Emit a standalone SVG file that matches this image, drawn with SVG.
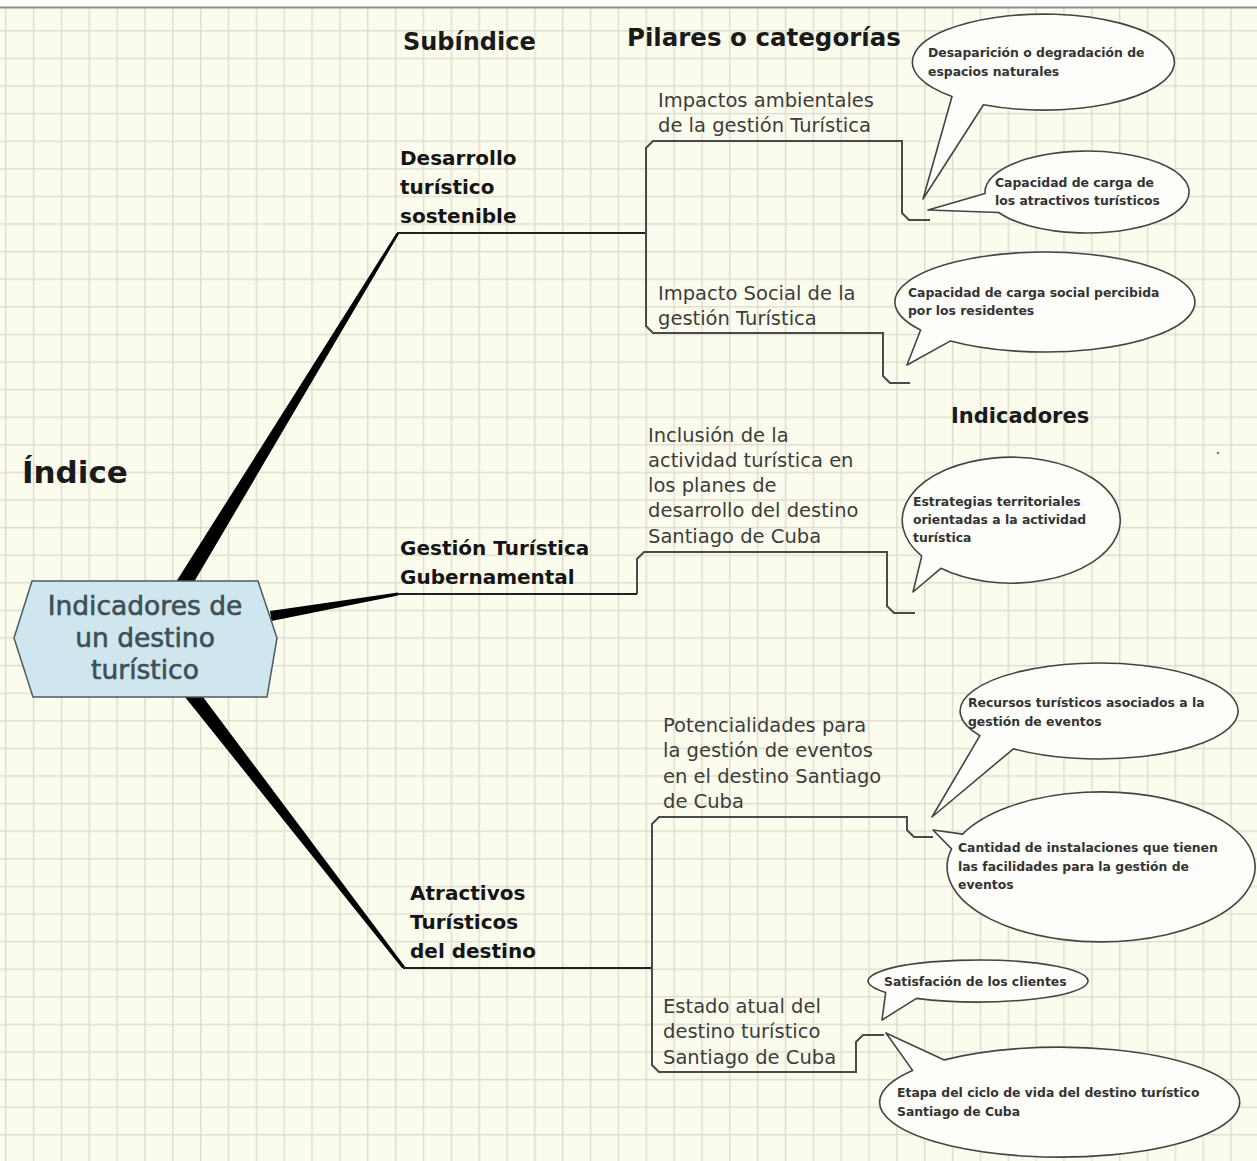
<svg xmlns="http://www.w3.org/2000/svg" width="1257" height="1161" viewBox="0 0 1257 1161">
<defs>
  <pattern id="grid" patternUnits="userSpaceOnUse" x="5" y="2.5" width="27.85" height="27.6">
    <rect x="0" y="0" width="27.85" height="27.6" fill="#fcfcee"/>
    <rect x="0" y="0" width="1.4" height="27.6" fill="#dcdcd0"/>
    <rect x="0" y="0" width="27.85" height="1.4" fill="#dcdcd0"/>
  </pattern>
  <style>
    .hdr{font-family:"DejaVu Sans","Open Sans",sans-serif;font-weight:bold;fill:#1a1a1a}
    .sub{font-family:"DejaVu Sans","Open Sans",sans-serif;font-weight:bold;font-size:20px;fill:#151515}
    .pil{font-family:"DejaVu Sans","Open Sans",sans-serif;font-size:19.5px;fill:#3c3c3c}
    .ind{font-family:"DejaVu Sans","Open Sans",sans-serif;font-weight:bold;font-size:12.4px;fill:#333}
    .hex{font-family:"DejaVu Sans","Open Sans",sans-serif;font-size:26.5px;fill:#3d5055;stroke:#3d5055;stroke-width:0.6}
    .br{fill:none;stroke:#4a4a4a;stroke-width:2}
    .hl{fill:none;stroke:#222;stroke-width:2}
    .trunk{fill:#000;stroke:none}
    .call{fill:#fdfdfa;stroke:#444;stroke-width:1.6;stroke-linejoin:round}
  </style>
</defs>
<rect x="0" y="0" width="1257" height="1161" fill="url(#grid)"/>
<rect x="0" y="0" width="1257" height="7" fill="#ffffff"/>
<line x1="0" y1="7.5" x2="1257" y2="7.5" stroke="#8f8f8f" stroke-width="2"/>
<circle cx="1218" cy="453" r="1.3" fill="#777"/>

<g id="headers">
  <text class="hdr" x="403" y="50" font-size="24">Subíndice</text>
  <text class="hdr" x="627" y="46" font-size="24.5">Pilares o categorías</text>
  <text class="hdr" x="951" y="423" font-size="21">Indicadores</text>
  <text class="hdr" x="22" y="483" font-size="31" fill="#000">Índice</text>
</g>

<g id="connectors">
  <polygon class="trunk" points="176,582 194,582 399.5,233 396.5,233"/>
  <polygon class="trunk" points="270,611 271.5,621 398,595.5 398,592.5"/>
  <polygon class="trunk" points="185,697 203,697 406,968 402,968"/>
  <line class="hl" x1="397" y1="233" x2="646" y2="233"/>
  <line class="hl" x1="397" y1="594" x2="637" y2="594"/>
  <line class="hl" x1="403" y1="968" x2="652" y2="968"/>
  <path class="br" d="M646 233 V148 L653 141 H902 V213 L909 220 H930"/>
  <path class="br" d="M646 233 V326 L653 333 H883 V376 L890 383 H910"/>
  <path class="br" d="M637 594 V559 L644 552 H887 V606 L894 613 H915"/>
  <path class="br" d="M652 968 V824 L659 817 H907 V830 L914 837 H933"/>
  <path class="br" d="M652 968 V1065 L659 1072 H856 V1042 L863 1035 H884"/>
</g>

<g id="root">
  <polygon points="14,638 32,581 258,581 277,638 267,697 33,697" fill="#cfe6ef" stroke="#4d5b60" stroke-width="1.5"/>
  <text class="hex" x="145" y="615" text-anchor="middle">Indicadores de</text>
  <text class="hex" x="145" y="647" text-anchor="middle">un destino</text>
  <text class="hex" x="145" y="679" text-anchor="middle">turístico</text>
</g>

<g id="sub-desarrollo">
  <text class="sub" x="400" y="165">Desarrollo</text>
  <text class="sub" x="400" y="194">turístico</text>
  <text class="sub" x="400" y="223">sostenible</text>
</g>
<g id="sub-gestion">
  <text class="sub" x="400" y="555">Gestión Turística</text>
  <text class="sub" x="400" y="584">Gubernamental</text>
</g>
<g id="sub-atractivos">
  <text class="sub" x="410" y="900">Atractivos</text>
  <text class="sub" x="410" y="929">Turísticos</text>
  <text class="sub" x="410" y="958">del destino</text>
</g>

<g id="pil-ambientales">
  <text class="pil" x="658" y="107">Impactos ambientales</text>
  <text class="pil" x="658" y="132">de la gestión Turística</text>
</g>
<g id="pil-social">
  <text class="pil" x="658" y="300">Impacto Social de la</text>
  <text class="pil" x="658" y="325">gestión Turística</text>
</g>
<g id="pil-inclusion">
  <text class="pil" x="648" y="442">Inclusión de la</text>
  <text class="pil" x="648" y="467">actividad turística en</text>
  <text class="pil" x="648" y="492">los planes de</text>
  <text class="pil" x="648" y="517">desarrollo del destino</text>
  <text class="pil" x="648" y="543">Santiago de Cuba</text>
</g>
<g id="pil-potencialidades">
  <text class="pil" x="663" y="732">Potencialidades para</text>
  <text class="pil" x="663" y="757">la gestión de eventos</text>
  <text class="pil" x="663" y="783">en el destino Santiago</text>
  <text class="pil" x="663" y="808">de Cuba</text>
</g>
<g id="pil-estado">
  <text class="pil" x="663" y="1013">Estado atual del</text>
  <text class="pil" x="663" y="1038">destino turístico</text>
  <text class="pil" x="663" y="1064">Santiago de Cuba</text>
</g>

<g id="ind-desaparicion">
  <path class="call" d="M952 96.5 A131 48 0 1 1 983.5 104.8 L923 199 Z"/>
  <text class="ind" x="928" y="57">Desaparición o degradación de</text>
  <text class="ind" x="928" y="76">espacios naturales</text>
</g>
<g id="ind-capacidad">
  <path class="call" d="M985.1 193.4 A102 41 0 1 1 998.7 212.5 L928 210 Z"/>
  <text class="ind" x="995" y="187">Capacidad de carga de</text>
  <text class="ind" x="995" y="205">los atractivos turísticos</text>
</g>
<g id="ind-social">
  <path class="call" d="M920.6 330 A150 50 0 1 1 950.6 340.9 L907 365 Z"/>
  <text class="ind" x="908" y="297">Capacidad de carga social percibida</text>
  <text class="ind" x="908" y="315">por los residentes</text>
</g>
<g id="ind-estrategias">
  <path class="call" d="M921.7 556.1 A109 63 0 1 1 940.9 568.3 L913 592 Z"/>
  <text class="ind" x="913" y="506">Estrategias territoriales</text>
  <text class="ind" x="913" y="524">orientadas a la actividad</text>
  <text class="ind" x="913" y="542">turística</text>
</g>
<g id="ind-recursos">
  <path class="call" d="M979.9 735.7 A139 48 0 1 1 1013.4 748.8 L932 817 Z"/>
  <text class="ind" x="968" y="707">Recursos turísticos asociados a la</text>
  <text class="ind" x="968" y="726">gestión de eventos</text>
</g>
<g id="ind-cantidad">
  <path class="call" d="M962.6 834.1 A154 75 0 1 1 951.6 848.9 L933 830 Z"/>
  <text class="ind" x="958" y="852">Cantidad de instalaciones que tienen</text>
  <text class="ind" x="958" y="871">las facilidades para la gestión de</text>
  <text class="ind" x="958" y="889">eventos</text>
</g>
<g id="ind-satisfaccion">
  <path class="call" d="M885.7 992.4 A110 21 0 1 1 916.5 998.4 L882 1020 Z"/>
  <text class="ind" x="884" y="986">Satisfación de los clientes</text>
</g>
<g id="ind-etapa">
  <path class="call" d="M944.3 1059.9 A180 55 0 1 1 912.6 1070.4 L886 1033 Z"/>
  <text class="ind" x="897" y="1097">Etapa del ciclo de vida del destino turístico</text>
  <text class="ind" x="897" y="1116">Santiago de Cuba</text>
</g>
</svg>
